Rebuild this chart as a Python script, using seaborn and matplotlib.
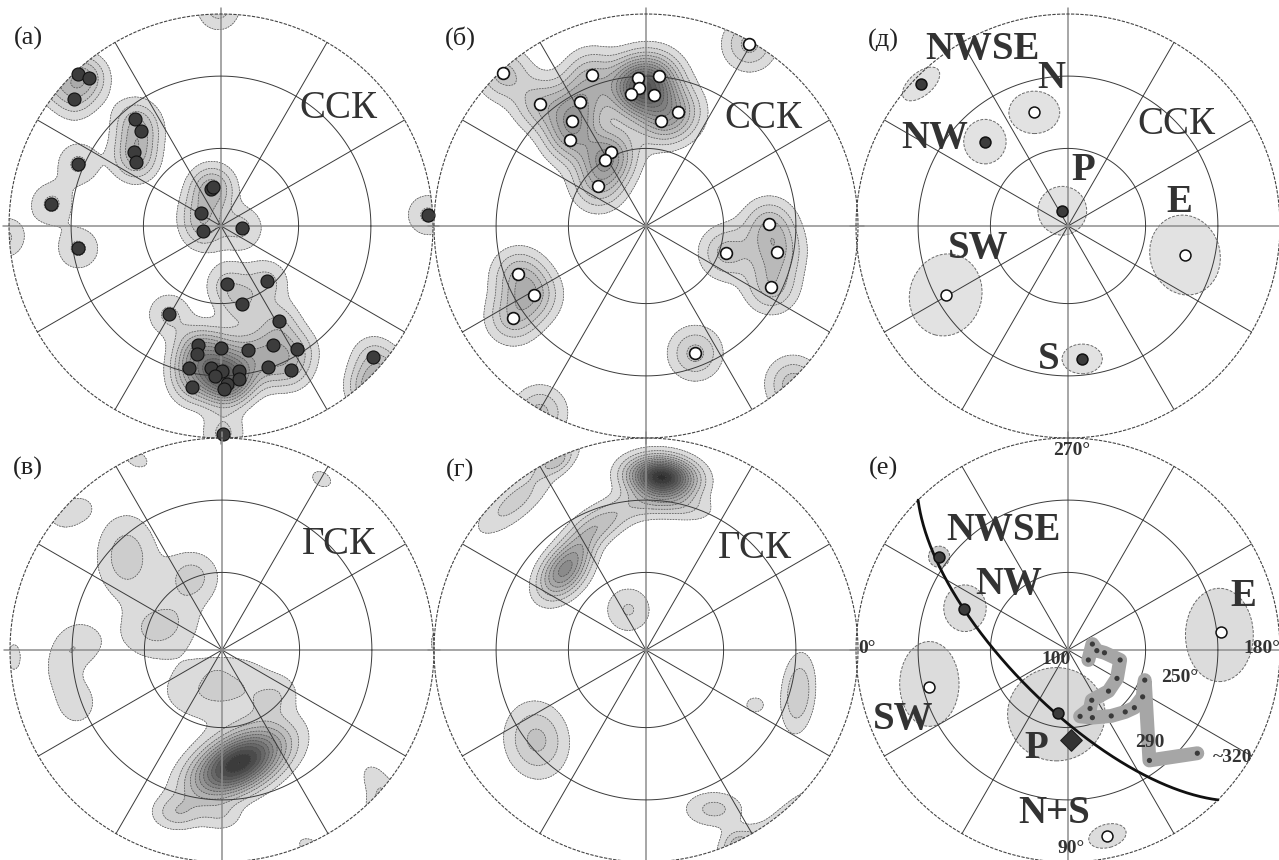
import numpy as np
import matplotlib
matplotlib.use("Agg")
import matplotlib.pyplot as plt
import seaborn as sns
from matplotlib.patches import Circle, Ellipse

# ---------------------------------------------------------------------------
# Data (equal-area net coordinates: x to the right, y up, primitive radius 1)
# ---------------------------------------------------------------------------

# (а) poles, ССК
a_x = [-0.676, -0.624, -0.692, -0.408, -0.376, -0.411, -0.400, -0.673, -0.800,
       -0.673, -0.047, -0.039, -0.096, -0.084, 0.098, 0.975, 0.030, 0.217,
       0.101, -0.246, 0.272, -0.108, -0.112, -0.001, 0.129, 0.243, 0.359,
       -0.152, -0.047, 0.003, 0.085, -0.028, 0.085, 0.027, 0.014, 0.224,
       0.330, -0.139, 0.719, 0.011]
a_y = [0.716, 0.697, 0.597, 0.507, 0.447, 0.351, 0.300, 0.294, 0.104,
       -0.106, 0.174, 0.186, 0.063, -0.024, -0.008, 0.052, -0.275, -0.261,
       -0.370, -0.417, -0.449, -0.561, -0.603, -0.575, -0.584, -0.559, -0.580,
       -0.672, -0.670, -0.686, -0.686, -0.709, -0.722, -0.745, -0.769, -0.667,
       -0.679, -0.758, -0.616, -0.982]

# (б) poles, ССК
b_x = [0.488, -0.673, -0.257, -0.036, 0.060, -0.032, -0.071, 0.038, -0.502,
       -0.309, 0.153, 0.071, -0.347, -0.360, -0.163, -0.194, -0.226, 0.580,
       0.378, 0.619, 0.591, -0.602, -0.526, -0.629, 0.232]
b_y = [0.858, 0.720, 0.714, 0.700, 0.708, 0.653, 0.622, 0.618, 0.575,
       0.586, 0.539, 0.494, 0.494, 0.408, 0.347, 0.309, 0.191, 0.009,
       -0.125, -0.122, -0.287, -0.227, -0.327, -0.433, -0.600]

# (в) density maxima, ГСК: centre, spread, orientation, strength
v_x = [0.077, -0.010, -0.025, -0.214, 0.000, -0.450, -0.143, -0.292, -0.670,
       -0.685, -0.760, -0.682, -0.402, 0.470, 0.725, -0.981, 0.250]
v_y = [-0.534, -0.180, -0.133, -0.770, -0.790, 0.440, 0.346, 0.110, 0.032,
       -0.250, -0.090, 0.660, 0.900, 0.806, -0.620, -0.033, -0.230]
v_sx = [0.160, 0.190, 0.030, 0.080, 0.070, 0.100, 0.090, 0.130, 0.080,
        0.070, 0.060, 0.065, 0.055, 0.050, 0.050, 0.035, 0.080]
v_sy = [0.085, 0.110, 0.025, 0.055, 0.050, 0.140, 0.085, 0.095, 0.080,
        0.080, 0.090, 0.050, 0.035, 0.035, 0.080, 0.070, 0.060]
v_ang = [28, 5, 0, 0, 0, 0, 0, 20, 0, 0, 0, 30, -25, -30, 30, 0, 35]
v_w = [13, 2.3, 0.8, 2.3, 1.4, 2.6, 2.4, 2.4, 1.7, 1.7, 1.4, 1.5, 1.5, 1.5,
       1.5, 1.4, 1.3]

# (г) density maxima, ГСК
g_x = [0.074, -0.390, -0.225, -0.013, 0.176, -0.620, -0.430, -0.083, -0.516,
       0.718, 0.514, 0.320, 0.420, -0.310]
g_y = [0.817, 0.369, 0.590, 0.692, 0.676, 0.700, 0.890, 0.190, -0.425,
       -0.204, -0.259, -0.750, -0.900, 0.480]
g_sx = [0.105, 0.100, 0.100, 0.120, 0.110, 0.160, 0.090, 0.080, 0.100,
        0.055, 0.035, 0.100, 0.050, 0.080]
g_sy = [0.062, 0.065, 0.055, 0.055, 0.050, 0.060, 0.035, 0.080, 0.120,
        0.130, 0.030, 0.060, 0.050, 0.050]
g_ang = [-5, 50, 25, 10, -10, 40, 30, 0, 10, -5, 0, 0, 0, 45]
g_w = [14, 7, 3.2, 2.2, 1.8, 2.4, 1.8, 2.1, 3.3, 3.0, 1.8, 2.3, 1.6, 1.8]

# (д) mean directions with confidence ellipses, ССК
d_names = ["NWSE", "N", "NW", "P", "E", "SW", "S"]
d_x = [-0.693, -0.159, -0.392, -0.027, 0.552, -0.577, 0.067]
d_y = [0.670, 0.536, 0.398, 0.072, -0.137, -0.325, -0.627]
d_ew = [0.21, 0.24, 0.20, 0.23, 0.33, 0.34, 0.19]
d_eh = [0.11, 0.20, 0.21, 0.23, 0.38, 0.39, 0.14]
d_ea = [40, 0, 0, 0, 15, -15, 0]
d_open = [False, True, False, False, True, True, False]
d_lx = [-0.402, -0.077, -0.631, 0.072, 0.525, -0.423, -0.090]
d_ly = [0.833, 0.697, 0.414, 0.261, 0.110, -0.105, -0.629]

# (е) mean directions, ГСК
e_names = ["NWSE", "NW", "E", "SW", "P", "N+S"]
e_x = [-0.608, -0.489, 0.720, -0.656, -0.049, 0.183]
e_y = [0.440, 0.193, 0.083, -0.176, -0.299, -0.877]
e_cx = [-0.608, -0.486, 0.714, -0.654, -0.055, 0.186]
e_cy = [0.440, 0.197, 0.071, -0.160, -0.303, -0.877]
e_ew = [0.10, 0.20, 0.32, 0.28, 0.46, 0.18]
e_eh = [0.10, 0.22, 0.44, 0.40, 0.44, 0.11]
e_ea = [0, 0, 0, 0, 0, 15]
e_open = [False, False, True, True, False, True]
e_lx = [-0.305, -0.282, 0.827, -0.777, -0.151, -0.066]
e_ly = [0.566, 0.311, 0.251, -0.330, -0.464, -0.770]
e_fill = ["#cdcdcd", "#dcdcdc", "#dcdcdc", "#dcdcdc", "#d9d9d9", "#dcdcdc"]

# (е) pole of the present-day field
diamond_x = [0.013]
diamond_y = [-0.425]

# (е) great circle through NWSE - NW - P
gc_dip_dir = 225.0
gc_dip = 69.0

# (е) path of the virtual poles, labelled by age
track_x = [0.096, 0.115, 0.136, 0.172, 0.246, 0.231, 0.191, 0.112, 0.104,
           0.057, 0.115, 0.204, 0.270, 0.313, 0.352, 0.362, 0.384, 0.610]
track_y = [-0.047, 0.028, -0.003, -0.013, -0.047, -0.134, -0.194, -0.237,
           -0.276, -0.313, -0.319, -0.311, -0.292, -0.272, -0.221, -0.142,
           -0.521, -0.487]
track_labels = {0: "100", 15: "250°", 16: "290", 17: "~320"}

# (е) azimuth labels on the primitive
az_labels = ["270°", "0°", "180°", "90°"]
az_x = [0.017, -0.950, 0.914, 0.017]
az_y = [0.943, 0.008, 0.008, -0.935]

# ---------------------------------------------------------------------------
# Figure set-up
# ---------------------------------------------------------------------------
sns.set_theme(style="white")
plt.rcParams["font.family"] = ["Liberation Serif", "DejaVu Serif"]

W, H = 1279, 860
R = 212
L = 1.1
fig = plt.figure(figsize=(W / 100, H / 100), dpi=100)
fig.patch.set_facecolor("white")

centres = {"а": (221, 226), "б": (646, 226), "д": (1068, 226),
           "в": (222, 650), "г": (646, 650), "е": (1068, 650)}

grid = np.linspace(-1.02, 1.02, 461)
GX, GY = np.meshgrid(grid, grid)

TEXT = "#333333"
LINE = "#3a3a3a"


def make_ax(key):
    cx, cy = centres[key]
    side = 2 * R * L
    ax = fig.add_axes([(cx - R * L) / W, (H - cy - R * L) / H, side / W, side / H])
    ax.set_xlim(-L, L)
    ax.set_ylim(-L, L)
    ax.set_facecolor("none")
    ax.set_axis_off()
    return ax


def draw_net(ax):
    for a in (30, 60, 120, 150):
        t = np.deg2rad(a)
        ax.plot([-np.cos(t), np.cos(t)], [-np.sin(t), np.sin(t)],
                color=LINE, lw=0.7, zorder=3)
    ax.plot([-1.03, 1.03], [0, 0], color="#8e8e8e", lw=1.1, zorder=3)
    ax.plot([0, 0], [-1.03, 1.03], color="#8e8e8e", lw=1.1, zorder=3)
    th = np.linspace(0, 2 * np.pi, 721)
    for r in (np.sqrt(2) * np.sin(np.deg2rad(15)), np.sqrt(2) * np.sin(np.deg2rad(30))):
        ax.plot(r * np.cos(th), r * np.sin(th), color=LINE, lw=0.7, zorder=3)
    ax.plot(np.cos(th), np.sin(th), color="#444444", lw=0.8,
            ls=(0, (3, 1.2)), zorder=3)


def antipode(x, y):
    # opposite direction, continued past the primitive (equal-area radius)
    r = np.hypot(x, y)
    if r < 1e-9:
        return None
    rr = np.sqrt(max(2.0 - r * r, 0.0))
    return -x / r * rr, -y / r * rr


def mixture(cx, cy, sx, sy, ang, w):
    dens = np.zeros_like(GX)
    for i in range(len(cx)):
        a = np.deg2rad(ang[i])
        spots = [(cx[i], cy[i])]
        ap = antipode(cx[i], cy[i])
        if ap is not None:
            spots.append(ap)
        for px, py in spots:
            dx = GX - px
            dy = GY - py
            u = dx * np.cos(a) + dy * np.sin(a)
            v = -dx * np.sin(a) + dy * np.cos(a)
            dens += w[i] * np.exp(-0.5 * ((u / sx[i]) ** 2 + (v / sy[i]) ** 2))
    return dens


def shades(n):
    vals = np.linspace(0.86, 0.18, n)
    return [(g, g, g) for g in vals]


def draw_density(ax, dens, step, n):
    levels = list(step * np.arange(1, n + 1))
    levels.append(max(dens.max(), levels[-1]) + 1.0)
    clip = Circle((0, 0), 1.0, transform=ax.transData)
    cf = ax.contourf(GX, GY, dens, levels=levels, colors=shades(n), zorder=1)
    cl = ax.contour(GX, GY, dens, levels=levels[:-1], colors="#505050",
                    linewidths=0.5, linestyles=[(0, (2.5, 1.5))], zorder=2)
    cf.set_clip_path(clip)
    cl.set_clip_path(clip)


def panel_label(ax, txt, x, y):
    ax.text(x, y, txt, fontsize=19, ha="center", va="center", color="#222222",
            zorder=10)


def frame_label(ax, txt, x, y):
    ax.text(x, y, txt, fontsize=28, ha="center", va="center", color=TEXT,
            zorder=10)


def bold_label(ax, txt, x, y, size=28):
    ax.text(x, y, txt, fontsize=size, ha="center", va="center", color=TEXT,
            fontweight="bold", zorder=10)


def dots(ax, x, y, open_=False, s=85, lw=0.8):
    if open_:
        sns.scatterplot(x=x, y=y, ax=ax, s=s, color="white", edgecolor="#111111",
                        linewidth=lw, zorder=6, legend=False)
    else:
        sns.scatterplot(x=x, y=y, ax=ax, s=s, color="#3c3c3c", edgecolor="#111111",
                        linewidth=lw, zorder=6, legend=False)


# ---------------------------------------------------------------------------
# (а)
# ---------------------------------------------------------------------------
ax = make_ax("а")
bw = 0.072
draw_density(ax, mixture(a_x, a_y, [bw] * len(a_x), [bw] * len(a_x),
                         [0] * len(a_x), [1.0] * len(a_x)), 0.45, 15)
draw_net(ax)
dots(ax, a_x, a_y, s=88)
panel_label(ax, "(а)", -0.909, 0.885)
frame_label(ax, "ССК", 0.553, 0.552)

# ---------------------------------------------------------------------------
# (б)
# ---------------------------------------------------------------------------
ax = make_ax("б")
bw = 0.085
draw_density(ax, mixture(b_x, b_y, [bw] * len(b_x), [bw] * len(b_x),
                         [0] * len(b_x), [1.0] * len(b_x)), 0.3, 16)
draw_net(ax)
dots(ax, b_x, b_y, open_=True, s=72, lw=1.2)
panel_label(ax, "(б)", -0.877, 0.885)
frame_label(ax, "ССК", 0.553, 0.508)

# ---------------------------------------------------------------------------
# (д)
# ---------------------------------------------------------------------------
ax = make_ax("д")
for i in range(len(d_x)):
    ax.add_patch(Ellipse((d_x[i], d_y[i]), d_ew[i], d_eh[i], angle=d_ea[i],
                         facecolor="#e2e2e2", edgecolor="#6a6a6a", lw=0.7,
                         ls=(0, (3, 1.5)), zorder=1))
draw_net(ax)
for i in range(len(d_x)):
    dots(ax, [d_x[i]], [d_y[i]], open_=d_open[i], s=62, lw=1.1)
    bold_label(ax, d_names[i], d_lx[i], d_ly[i])
panel_label(ax, "(д)", -0.871, 0.877)
frame_label(ax, "ССК", 0.513, 0.481)

# ---------------------------------------------------------------------------
# (в)
# ---------------------------------------------------------------------------
ax = make_ax("в")
draw_density(ax, mixture(v_x, v_y, v_sx, v_sy, v_ang, v_w), 1.0, 13)
draw_net(ax)
panel_label(ax, "(в)", -0.914, 0.857)
frame_label(ax, "ГСК", 0.549, 0.500)

# ---------------------------------------------------------------------------
# (г)
# ---------------------------------------------------------------------------
ax = make_ax("г")
draw_density(ax, mixture(g_x, g_y, g_sx, g_sy, g_ang, g_w), 1.0, 14)
draw_net(ax)
panel_label(ax, "(г)", -0.877, 0.849)
frame_label(ax, "ГСК", 0.514, 0.480)

# ---------------------------------------------------------------------------
# (е)
# ---------------------------------------------------------------------------
ax = make_ax("е")
for i in range(len(e_x)):
    ax.add_patch(Ellipse((e_cx[i], e_cy[i]), e_ew[i], e_eh[i], angle=e_ea[i],
                         facecolor=e_fill[i], edgecolor="#6a6a6a", lw=0.7,
                         ls=(0, (3, 1.5)), zorder=1))
draw_net(ax)

# great circle, equal-area lower hemisphere
dd = np.deg2rad(gc_dip_dir)
dp = np.deg2rad(gc_dip)
st = dd - np.pi / 2
t = np.linspace(0, np.pi, 400)
vx = np.cos(t) * np.sin(st) + np.sin(t) * np.cos(dp) * np.sin(dd)
vy = np.cos(t) * np.cos(st) + np.sin(t) * np.cos(dp) * np.cos(dd)
vz = np.sin(t) * np.sin(dp)
ax.plot(vx / np.sqrt(1 + vz), vy / np.sqrt(1 + vz), color="#111111", lw=2.0,
        zorder=5)

# pole path
ax.plot(track_x, track_y, color="#a6a6a6", lw=10, solid_capstyle="round",
        solid_joinstyle="round", zorder=4)
sns.scatterplot(x=track_x, y=track_y, ax=ax, s=14, color="#3a3a3a",
                edgecolor="none", zorder=6, legend=False)
offsets = {0: (-13, 0, "right"), 15: (12, 2, "left"), 16: (0, 13, "center"),
           17: (11.5, -3, "left")}
for i, lab in track_labels.items():
    ox, oy, ha = offsets[i]
    ax.annotate(lab, xy=(track_x[i], track_y[i]), xytext=(ox, oy),
                textcoords="offset points", ha=ha, va="center", fontsize=14,
                fontweight="bold", color=TEXT, zorder=10)

for i in range(len(e_x)):
    dots(ax, [e_x[i]], [e_y[i]], open_=e_open[i], s=62, lw=1.1)
    bold_label(ax, e_names[i], e_lx[i], e_ly[i])
sns.scatterplot(x=diamond_x, y=diamond_y, ax=ax, s=120, marker="D",
                color="#333333", edgecolor="#222222", zorder=6, legend=False)
for i in range(len(az_labels)):
    ax.text(az_x[i], az_y[i], az_labels[i], fontsize=14, fontweight="bold",
            ha="center", va="center", color=TEXT, zorder=10)
panel_label(ax, "(е)", -0.871, 0.857)

fig.savefig("out.png", dpi=100, facecolor="white")
